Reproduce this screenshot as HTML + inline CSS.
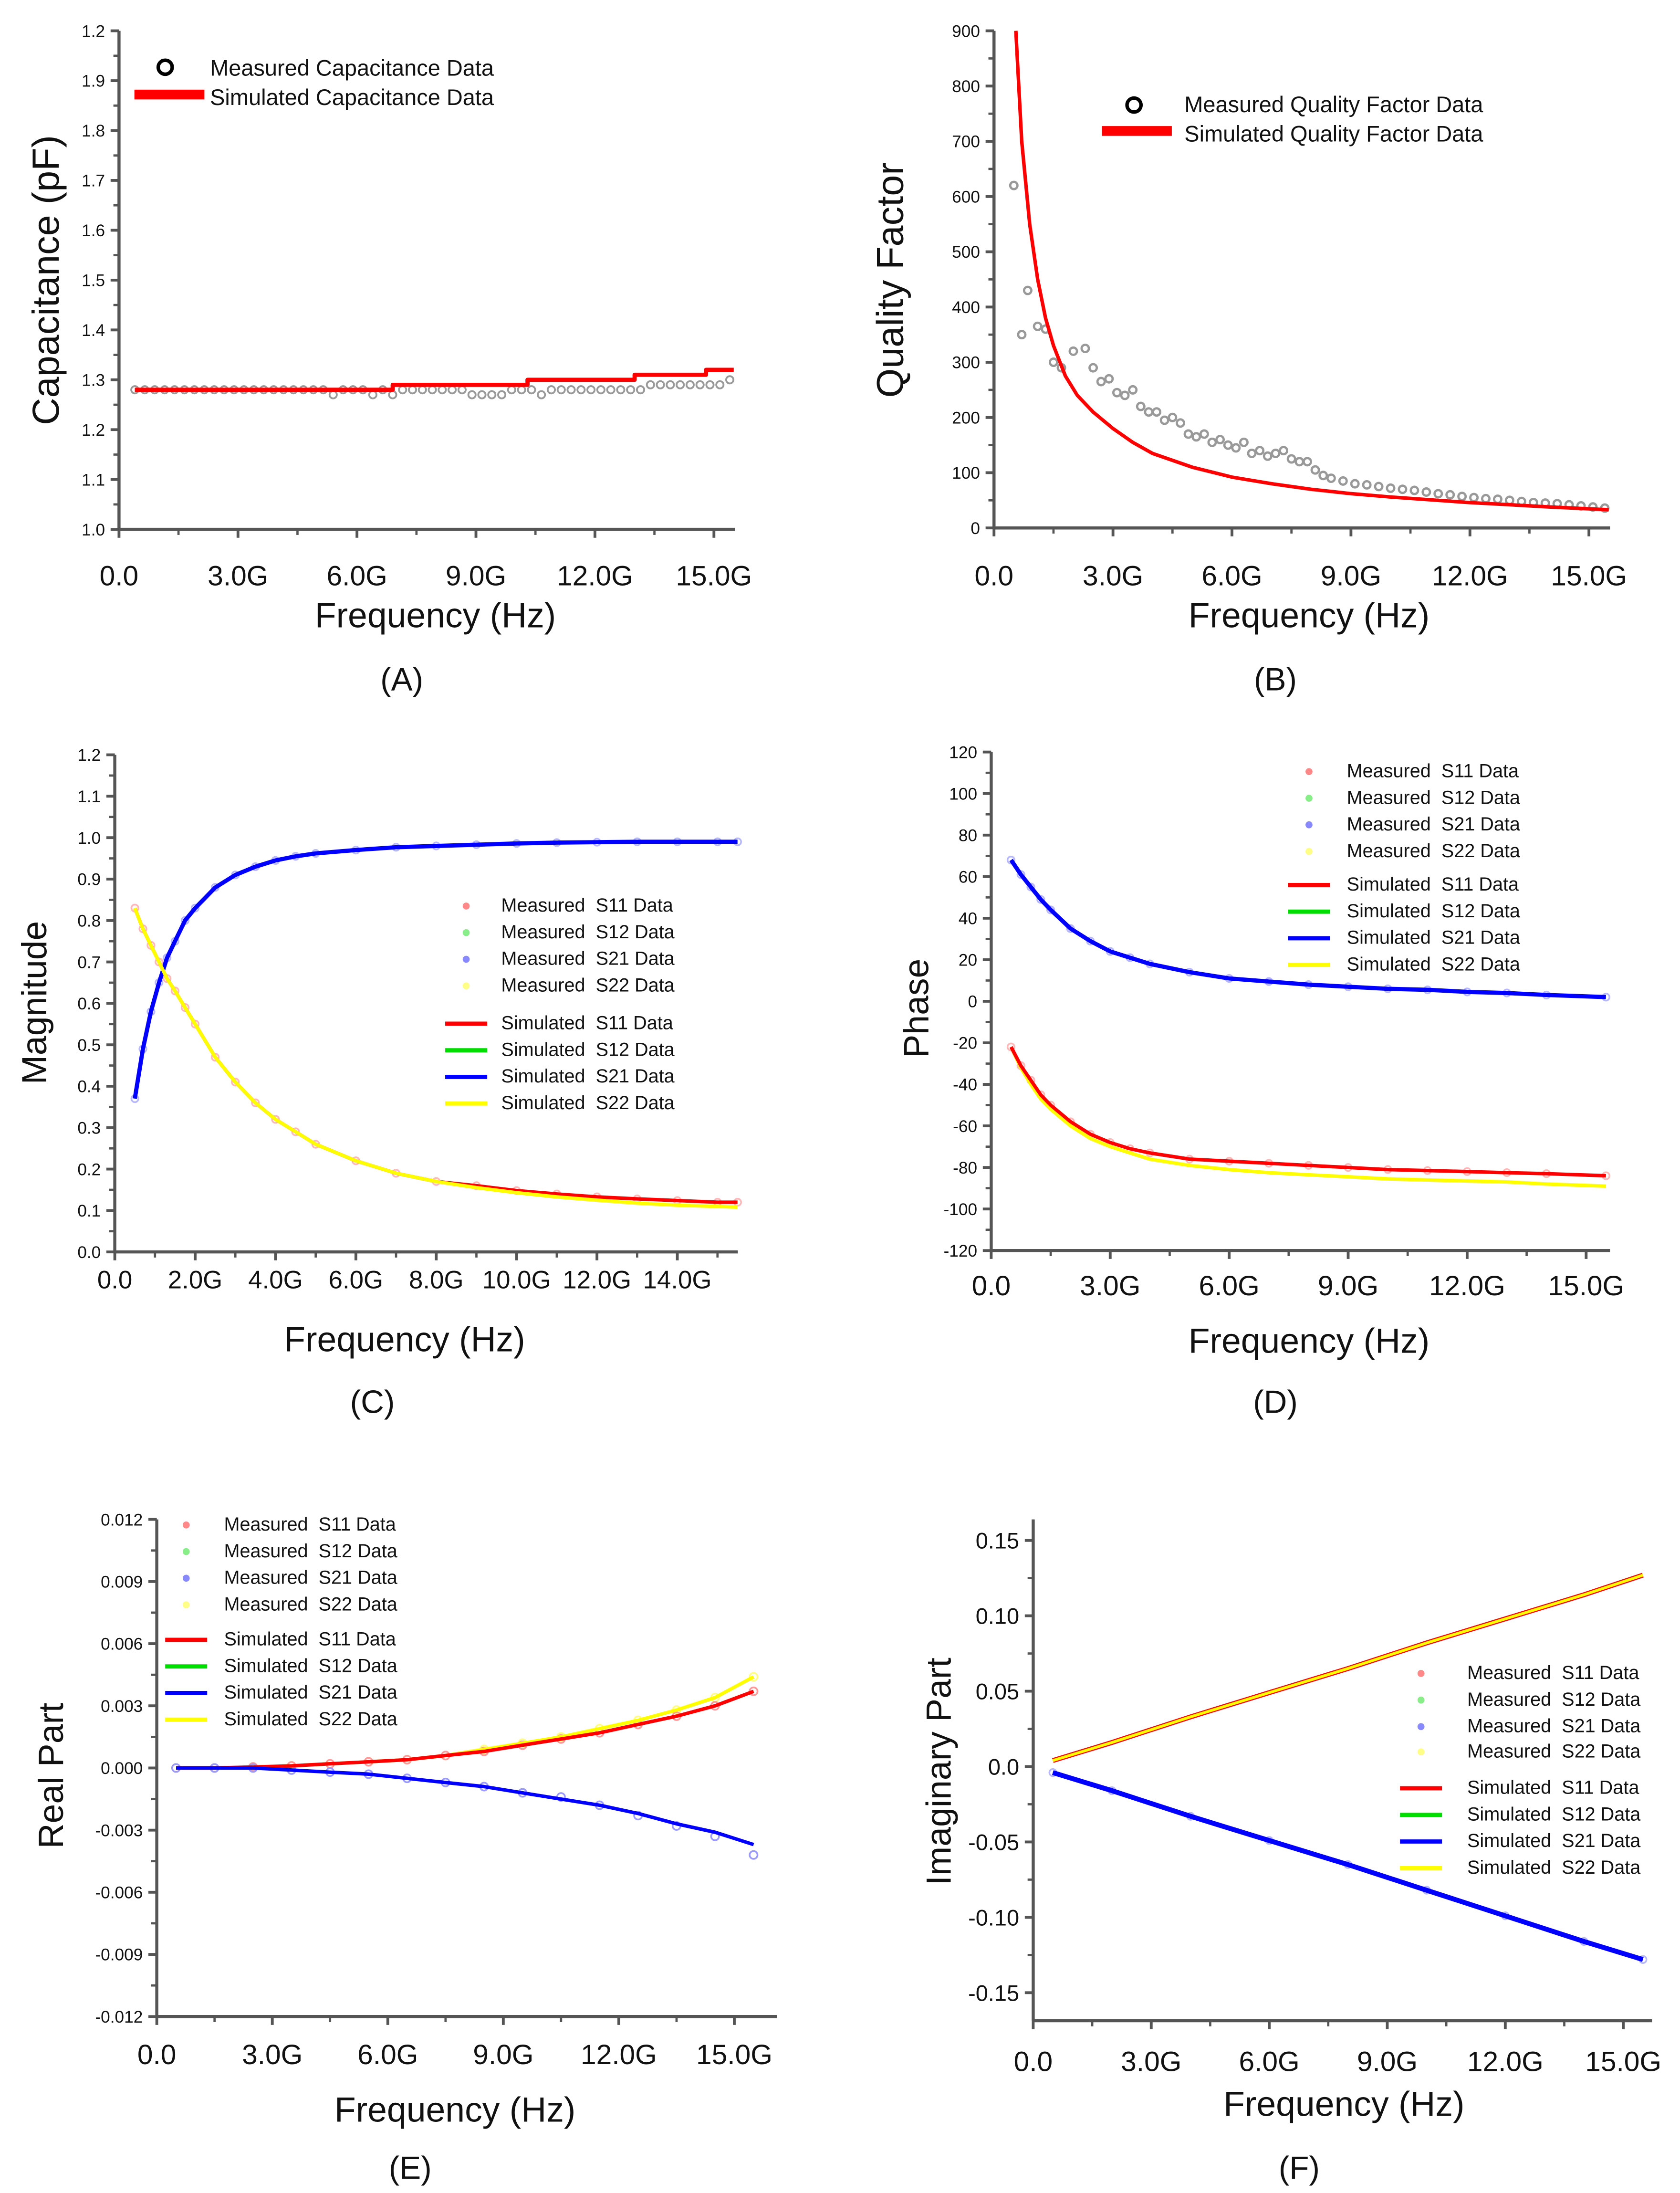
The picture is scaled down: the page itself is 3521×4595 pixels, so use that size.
<!DOCTYPE html>
<html><head><meta charset="utf-8"><style>
html,body{margin:0;padding:0;background:#fff}
svg{display:block}
text{font-family:"Liberation Sans",sans-serif;fill:#111;white-space:pre}
</style></head><body>
<svg id="fig" width="3521" height="4595" viewBox="0 0 1200 1566" xmlns="http://www.w3.org/2000/svg">
<rect width="1200" height="1566" fill="#fff"/>
<text x="287" y="493" font-size="23" text-anchor="middle">(A)</text>
<text x="911" y="493" font-size="23" text-anchor="middle">(B)</text>
<text x="266" y="1009" font-size="23" text-anchor="middle">(C)</text>
<text x="911" y="1009" font-size="23" text-anchor="middle">(D)</text>
<text x="293" y="1556" font-size="23" text-anchor="middle">(E)</text>
<text x="928" y="1556" font-size="23" text-anchor="middle">(F)</text>

<text x="311" y="448" font-size="25" text-anchor="middle">Frequency (Hz)</text>
<text x="935" y="448" font-size="25" text-anchor="middle">Frequency (Hz)</text>
<text x="289" y="965" font-size="25" text-anchor="middle">Frequency (Hz)</text>
<text x="935" y="966" font-size="25" text-anchor="middle">Frequency (Hz)</text>
<text x="325" y="1515" font-size="25" text-anchor="middle">Frequency (Hz)</text>
<text x="960" y="1511" font-size="25" text-anchor="middle">Frequency (Hz)</text>

<text transform="translate(42,200) rotate(-90)" font-size="27" text-anchor="middle">Capacitance (pF)</text>
<text transform="translate(645,200) rotate(-90)" font-size="27" text-anchor="middle">Quality Factor</text>
<text transform="translate(33,716) rotate(-90)" font-size="25" text-anchor="middle">Magnitude</text>
<text transform="translate(663,720) rotate(-90)" font-size="25" text-anchor="middle">Phase</text>
<text transform="translate(45,1268) rotate(-90)" font-size="25" text-anchor="middle">Real Part</text>
<text transform="translate(679,1265) rotate(-90)" font-size="25" text-anchor="middle">Imaginary Part</text>

<g>
<circle cx="118" cy="48" r="5" fill="none" stroke="#000" stroke-width="2.5"/>
<text x="150" y="54" font-size="16">Measured Capacitance Data</text>
<rect x="96" y="64" width="50" height="7" fill="#f00"/>
<text x="150" y="75" font-size="16">Simulated Capacitance Data</text>
</g>
<g>
<circle cx="810" cy="75" r="5" fill="none" stroke="#000" stroke-width="2.5"/>
<text x="846" y="80" font-size="16">Measured Quality Factor Data</text>
<rect x="787" y="90" width="50" height="7" fill="#f00"/>
<text x="846" y="101" font-size="16">Simulated Quality Factor Data</text>
</g>
<g id="plots"></g>
</svg>
<script>
// Panel A
const capFreq = [0.4,0.65,0.9,1.15,1.4,1.65,1.9,2.15,2.4,2.65,2.9,3.15,3.4,3.65,3.9,4.15,4.4,4.65,4.9,5.15,5.4,5.65,5.9,6.15,6.4,6.65,6.9,7.15,7.4,7.65,7.9,8.15,8.4,8.65,8.9,9.15,9.4,9.65,9.9,10.15,10.4,10.65,10.9,11.15,11.4,11.65,11.9,12.15,12.4,12.65,12.9,13.15,13.4,13.65,13.9,14.15,14.4,14.65,14.9,15.15,15.4];
const capMeas = [1.28,1.28,1.28,1.28,1.28,1.28,1.28,1.28,1.28,1.28,1.28,1.28,1.28,1.28,1.28,1.28,1.28,1.28,1.28,1.28,1.27,1.28,1.28,1.28,1.27,1.28,1.27,1.28,1.28,1.28,1.28,1.28,1.28,1.28,1.27,1.27,1.27,1.27,1.28,1.28,1.28,1.27,1.28,1.28,1.28,1.28,1.28,1.28,1.28,1.28,1.28,1.28,1.29,1.29,1.29,1.29,1.29,1.29,1.29,1.29,1.30];
const capSimFreq = [0.4,6.9,6.9,10.3,10.3,13.0,13.0,14.8,14.8,15.5];
const capSim = [1.28,1.28,1.29,1.29,1.30,1.30,1.31,1.31,1.32,1.32];
const capTickLabels = ["1.0","1.1","1.2","1.3","1.4","1.5","1.6","1.7","1.8","1.9","1.2"];
// Panel B
const qFreq = [0.5,0.7,0.85,1.1,1.3,1.5,1.7,2.0,2.3,2.5,2.7,2.9,3.1,3.3,3.5,3.7,3.9,4.1,4.3,4.5,4.7,4.9,5.1,5.3,5.5,5.7,5.9,6.1,6.3,6.5,6.7,6.9,7.1,7.3,7.5,7.7,7.9,8.1,8.3,8.5,8.8,9.1,9.4,9.7,10.0,10.3,10.6,10.9,11.2,11.5,11.8,12.1,12.4,12.7,13.0,13.3,13.6,13.9,14.2,14.5,14.8,15.1,15.4];
const qMeas = [620,350,430,365,360,300,290,320,325,290,265,270,245,240,250,220,210,210,195,200,190,170,165,170,155,160,150,145,155,135,140,130,135,140,125,120,120,105,95,90,85,80,78,75,72,70,68,65,62,60,57,55,53,52,50,48,46,45,44,42,40,38,36];
const qSimFreq = [0.55,0.7,0.9,1.1,1.3,1.5,1.8,2.1,2.5,3.0,3.5,4.0,5.0,6.0,7.0,8.0,9.0,10.0,11.0,12.0,13.0,14.0,15.5];
const qSim = [900,700,550,450,380,330,275,240,210,180,155,135,110,92,80,70,62,56,51,46,42,38,33];
// Panel C
const magFreq = [0.5,0.7,0.9,1.1,1.3,1.5,1.75,2.0,2.5,3.0,3.5,4.0,4.5,5.0,6.0,7.0,8.0,9.0,10.0,11.0,12.0,13.0,14.0,15.0,15.5];
const magS21 = [0.37,0.49,0.58,0.65,0.71,0.75,0.80,0.83,0.88,0.91,0.93,0.945,0.955,0.962,0.97,0.977,0.98,0.983,0.986,0.988,0.989,0.99,0.99,0.99,0.99];
const magS11 = [0.83,0.78,0.74,0.70,0.66,0.63,0.59,0.55,0.47,0.41,0.36,0.32,0.29,0.26,0.22,0.19,0.17,0.16,0.148,0.14,0.133,0.128,0.124,0.12,0.12];
const magS22 = [0.83,0.78,0.74,0.70,0.66,0.63,0.59,0.55,0.47,0.41,0.36,0.32,0.29,0.26,0.22,0.19,0.17,0.155,0.143,0.133,0.125,0.118,0.113,0.11,0.108];
// Panel D
const phFreq = [0.5,0.75,1.0,1.25,1.5,2.0,2.5,3.0,3.5,4.0,5.0,6.0,7.0,8.0,9.0,10.0,11.0,12.0,13.0,14.0,15.5];
const phS21 = [68,61,55,49,44,35,29,24,21,18,14,11,9.5,8,7,6,5.5,4.5,4,3,2];
const phS11 = [-22,-31,-38,-45,-50,-58,-64,-68,-71,-73,-76,-77,-78,-79,-80,-81,-81.5,-82,-82.5,-83,-84];
const phS22 = [-22,-32,-40,-47,-52,-60,-66,-70,-73,-76,-79,-81,-82.5,-83.5,-84.5,-85.5,-86,-86.5,-87,-88,-89];
// Panel E
const reFreq = [0.5,1.5,2.5,3.5,4.5,5.5,6.5,7.5,8.5,9.5,10.5,11.5,12.5,13.5,14.5,15.5];
const reS11 = [0,0,0.00005,0.0001,0.0002,0.0003,0.0004,0.0006,0.0008,0.0011,0.0014,0.0017,0.0021,0.0025,0.003,0.0037];
const reS22 = [0,0,0.00005,0.0001,0.0002,0.0003,0.0004,0.0006,0.0009,0.0012,0.0015,0.0019,0.0023,0.0028,0.0034,0.0044];
const reS21 = [0,0,0,-0.0001,-0.0002,-0.0003,-0.0005,-0.0007,-0.0009,-0.0012,-0.0015,-0.0018,-0.0022,-0.0027,-0.0031,-0.0037];
const reS21m = [0,0,0,-0.0001,-0.0002,-0.0003,-0.0005,-0.0007,-0.0009,-0.0012,-0.0014,-0.0018,-0.0023,-0.0028,-0.0033,-0.0042];
// Panel F
const imFreq = [0.5,2.0,4.0,6.0,8.0,10.0,12.0,14.0,15.5];
const imS11 = [0.004,0.016,0.033,0.049,0.065,0.082,0.098,0.114,0.127];
const imS21 = [-0.004,-0.016,-0.033,-0.049,-0.065,-0.082,-0.099,-0.116,-0.128];

const NS='http://www.w3.org/2000/svg';
const plots=document.getElementById('plots');
function mk(tag,attrs,parent){const e=document.createElementNS(NS,tag);for(const k in attrs)e.setAttribute(k,attrs[k]);(parent||plots).appendChild(e);return e;}

function panel(c){
  const g=mk('g',{});
  
  
  const X=f=>c.x0+f*c.xg;
  const Y=v=>c.ytop+(c.vmax-v)/(c.vmax-c.vmin)*(c.ybot-c.ytop);
  c.X=X;c.Y=Y;c.g=g;
  const ay=c.xAxisY||c.ybot;
  const ya=mk('line',{x1:c.x0,y1:c.axTop||c.ytop,x2:c.x0,y2:ay,stroke:'#555','stroke-width':2.2},g);
  
  
  const xa=mk('line',{x1:c.x0,y1:ay,x2:c.xr,y2:ay,stroke:'#555','stroke-width':2.2},g);
  
  
  const n=Math.round((c.vmax-c.vmin)/c.vstep);
  for(let i=0;i<=n;i++){
    const v=c.vmin+i*c.vstep,y=Y(v);
    mk('line',{x1:c.x0-6,y1:y,x2:c.x0,y2:y,stroke:'#555','stroke-width':2},g);
    if(i<n)mk('line',{x1:c.x0-4,y1:Y(v+c.vstep/2),x2:c.x0,y2:Y(v+c.vstep/2),stroke:'#555','stroke-width':1.6},g);
    const t=mk('text',{x:c.x0-(c.ylabGap||10),y:y+c.yfs*0.36,'font-size':c.yfs,'text-anchor':'end'},g);
    
    
    t.textContent=c.ylabels?c.ylabels[i]:c.yfmt(v);
  }
  for(let i=0;i<c.xlabels.length;i++){
    const f=i*c.xstep,x=X(f);
    mk('line',{x1:x,y1:ay,x2:x,y2:ay+6,stroke:'#555','stroke-width':2},g);
    if(X(f+c.xstep/2)<c.xr)mk('line',{x1:X(f+c.xstep/2),y1:ay,x2:X(f+c.xstep/2),y2:ay+4,stroke:'#555','stroke-width':1.6},g);
    const t=mk('text',{x:x,y:c.xlabY,'font-size':c.xfs,'text-anchor':'middle'},g);
    
    
    t.textContent=c.xlabels[i];
  }
  return c;
}
function line(c,fs,vs,color,w,name){
  const p=fs.map((f,i)=>c.X(f).toFixed(1)+','+c.Y(vs[i]).toFixed(1)).join(' ');
  const e=mk('polyline',{points:p,fill:'none',stroke:color,'stroke-width':w,'stroke-linejoin':'round'},c.g);
  
  
}
function pts(c,fs,vs,color,r,sw,name,op){
  fs.forEach((f,i)=>{
    const e=mk('circle',{cx:c.X(f),cy:c.Y(vs[i]),r:r,fill:'none',stroke:color,'stroke-width':sw,opacity:op||1},c.g);
    
    
  });
}
function sLegend(mx,tx,ys,fs){
  const L=mk('g',{});
  
  
  const cols=['#f88','#8e8','#88f','#ff8'],lc=['#f00','#0d0','#00f','#ff0'],nm=['S11','S12','S21','S22'];
  for(let i=0;i<4;i++){
    mk('circle',{cx:mx,cy:ys[i]-4,r:2.5,fill:cols[i]},L);
    const t=mk('text',{x:tx,y:ys[i],'font-size':fs},L);
    
    
    t.textContent='Measured  '+nm[i]+' Data';
  }
  for(let i=0;i<4;i++){
    mk('line',{x1:mx-15,y1:ys[4+i]-4,x2:mx+15,y2:ys[4+i]-4,stroke:lc[i],'stroke-width':3},L);
    const t=mk('text',{x:tx,y:ys[4+i],'font-size':fs},L);
    
    
    t.textContent='Simulated  '+nm[i]+' Data';
  }
}
const gl=['0.0','3.0G','6.0G','9.0G','12.0G','15.0G'];

const A=panel({name:'a',x0:85,xg:28.33,xr:525,ytop:22,ybot:378,vmin:1.0,vmax:2.0,vstep:0.1,ylabels:capTickLabels,yfs:12,xlabels:gl,xstep:3,xfs:20,xlabY:418});
pts(A,capFreq,capMeas,'#999',2.6,1.3,'a-measured-point');
line(A,capSimFreq,capSim,'#f00',3,'a-simulated-line');
const B=panel({name:'b',x0:710,xg:28.33,xr:1150,ytop:22,ybot:377,vmin:0,vmax:900,vstep:100,yfmt:v=>String(Math.round(v)),yfs:12,xlabels:gl,xstep:3,xfs:20,xlabY:418});
pts(B,qFreq,qMeas,'#999',2.6,1.6,'b-measured-point');
line(B,qSimFreq,qSim,'#f00',2.5,'b-simulated-line');
const C=panel({name:'c',x0:82,xg:28.7,xr:527,ytop:539,ybot:894,vmin:0,vmax:1.2,vstep:0.1,yfmt:v=>v.toFixed(1),yfs:12,xlabels:['0.0','2.0G','4.0G','6.0G','8.0G','10.0G','12.0G','14.0G'],xstep:2,xfs:18,xlabY:920});
pts(C,magFreq,magS11,'#f99',2.5,1.2,'c-measured-s11',0.7);
pts(C,magFreq,magS21,'#99f',2.5,1.2,'c-measured-s21',0.7);
line(C,magFreq,magS11,'#f00',2.5,'c-simulated-s11');
line(C,magFreq,magS21,'#00f',3,'c-simulated-s21');
line(C,magFreq,magS22,'#ff0',2.5,'c-simulated-s22');
sLegend(333,358,[651,670,689,708,735,754,773,792],13.5);
const D=panel({name:'d',x0:708,xg:28.33,xr:1150,ytop:537,ybot:893,vmin:-120,vmax:120,vstep:20,yfmt:v=>String(Math.round(v)),yfs:12,xlabels:gl,xstep:3,xfs:20,xlabY:925});
pts(D,phFreq,phS11,'#f99',2.5,1.2,'d-measured-s11',0.7);
pts(D,phFreq,phS21,'#99f',2.5,1.2,'d-measured-s21',0.7);
line(D,phFreq,phS22,'#ff0',2.5,'d-simulated-s22');
line(D,phFreq,phS11,'#f00',2.5,'d-simulated-s11');
line(D,phFreq,phS21,'#00f',3,'d-simulated-s21');
sLegend(935,962,[555,574,593,612,636,655,674,693],13.5);
const E=panel({name:'e',x0:112,xg:27.5,xr:555,ytop:1085,ybot:1440,vmin:-0.012,vmax:0.012,vstep:0.003,yfmt:v=>Math.abs(v)<1e-9?'0.000':v.toFixed(3),yfs:12,xlabels:gl,xstep:3,xfs:20,xlabY:1474});
pts(E,reFreq,reS22,'#ff8',2.8,1.2,'e-measured-s22');
pts(E,reFreq,reS11,'#f99',2.8,1.2,'e-measured-s11');
pts(E,reFreq,reS21m,'#99f',2.8,1.2,'e-measured-s21');
line(E,reFreq,reS22,'#ff0',2.5,'e-simulated-s22');
line(E,reFreq,reS11,'#f00',2.5,'e-simulated-s11');
line(E,reFreq,reS21,'#00f',2.5,'e-simulated-s21');
sLegend(133,160,[1093,1112,1131,1150,1175,1194,1213,1232],13.5);
const F=panel({name:'f',x0:738,xg:28.1,xr:1180,ytop:1100,ybot:1423,axTop:1085,xAxisY:1443,vmin:-0.15,vmax:0.15,vstep:0.05,yfmt:v=>Math.abs(v)<1e-9?'0.0':v.toFixed(2),yfs:16,xlabels:gl,xstep:3,xfs:20,xlabY:1479});
pts(F,imFreq,imS21,'#99f',2.5,1.2,'f-measured-s21',0.7);
line(F,imFreq,imS11,'#f00',3.5,'f-simulated-s11');
line(F,imFreq,imS11,'#ff0',2,'f-simulated-s22');
line(F,imFreq,imS21,'#00f',3.5,'f-simulated-s21');
sLegend(1015,1048,[1199,1218,1237,1255,1281,1300,1319,1338],13.5);
</script>
</body></html>
